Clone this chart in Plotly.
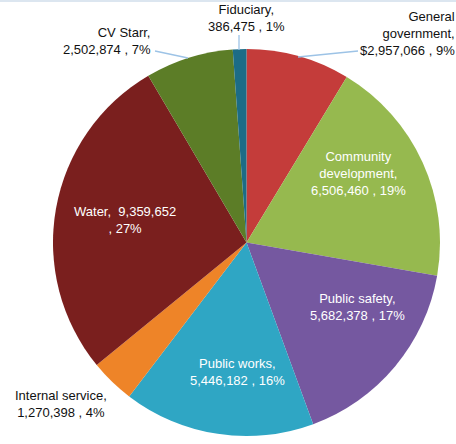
import plotly.graph_objects as go

categories = ["General government", "Community development", "Public safety",
              "Public works", "Internal service", "Water", "CV Starr", "Fiduciary"]
values = [2957066, 6506460, 5682378, 5446182, 1270398, 9359652, 2502874, 386475]
colors = ["#C43C3A", "#96B94F", "#7558A0", "#2FA6C4", "#EE8428", "#7A1F1E", "#5C7D27", "#1C6C86"]

total = sum(values)
pcts = [round(v / total * 100) for v in values]
vals_txt = [f"{v:,}" for v in values]

label_text = [
    f"General<br>government,<br>${vals_txt[0]} , {pcts[0]}%",
    f"Community<br>development,<br>{vals_txt[1]} , {pcts[1]}%",
    f"Public safety,<br>{vals_txt[2]} , {pcts[2]}%",
    f"Public works,<br>{vals_txt[3]} , {pcts[3]}%",
    f"Internal service,<br>{vals_txt[4]} , {pcts[4]}%",
    f"Water,  {vals_txt[5]}<br>, {pcts[5]}%",
    f"CV Starr,<br>{vals_txt[6]} , {pcts[6]}%",
    f"Fiduciary,<br>{vals_txt[7]} , {pcts[7]}%",
]

W, H = 456, 444

def px(x):
    return x / W

def py(y):
    return 1 - y / H

fig = go.Figure(go.Pie(
    labels=categories,
    values=values,
    sort=False,
    direction="clockwise",
    rotation=0,
    marker=dict(colors=colors, line=dict(width=0)),
    textinfo="none",
    hoverinfo="label+value+percent",
    showlegend=False,
    domain=dict(x=[px(51), px(442)], y=[py(436), py(49)]),
))

# label placement (pixel centres), alignment, colour
label_pos = [
    (457, 33, "right", "right", "#111111"),
    (358, 173, "center", "center", "white"),
    (357, 307, "center", "center", "white"),
    (237, 372, "center", "center", "white"),
    (61, 404, "center", "center", "#111111"),
    (125, 220, "center", "center", "white"),
    (153, 41, "right", "right", "#111111"),
    (246, 18, "center", "center", "#111111"),
]

annotations = []
for txt, (x, y, xa, al, col) in zip(label_text, label_pos):
    annotations.append(dict(
        x=px(x), y=py(y), xref="paper", yref="paper", text=txt,
        showarrow=False, xanchor=xa, yanchor="middle", align=al,
        font=dict(family="Liberation Sans, Arial, sans-serif", size=13, color=col),
    ))

leader = "#9DC3E6"
shapes = [
    dict(type="line", xref="paper", yref="paper", x0=px(298), y0=py(57), x1=px(358), y1=py(51),
         line=dict(color=leader, width=1.3)),
    dict(type="line", xref="paper", yref="paper", x0=px(239), y0=py(35), x1=px(239), y1=py(50),
         line=dict(color=leader, width=1.3)),
    dict(type="line", xref="paper", yref="paper", x0=px(155), y0=py(51), x1=px(188), y1=py(58),
         line=dict(color=leader, width=1.3)),
    dict(type="line", xref="paper", yref="paper", x0=0, y0=py(1), x1=1, y1=py(1),
         line=dict(color="#DCE6F0", width=2)),
]

fig.update_layout(
    width=W, height=H,
    margin=dict(l=0, r=0, t=0, b=0),
    paper_bgcolor="white",
    plot_bgcolor="white",
    annotations=annotations,
    shapes=shapes,
)

fig.write_html("out.html", config={"displayModeBar": False},
               post_script="document.body.style.margin='0';document.body.style.overflow='hidden';")
